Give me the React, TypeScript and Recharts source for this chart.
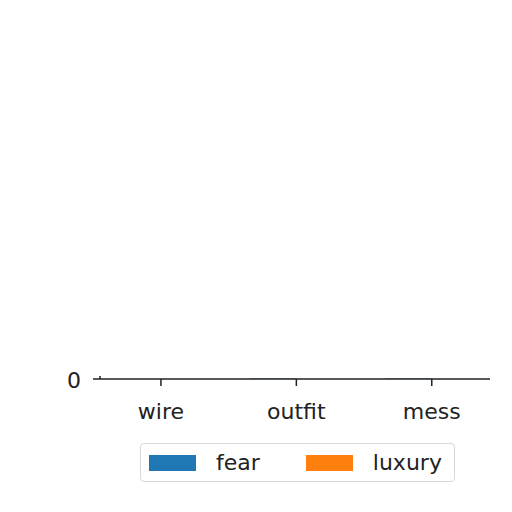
import { BarChart, Bar, XAxis, YAxis } from 'recharts'

const categories = ['wire', 'outfit', 'mess']
const fear = [1, 20, 18]
const luxury = [0.5, 2, 1]

const data = categories.map((name, i) => ({ x: i, name, fear: fear[i], luxury: luxury[i] }))

const font = '"DejaVu Sans", sans-serif'
const axisColor = '#222'

function LegendBox() {
  const item = (color: string, label: string) => (
    <div style={{ display: 'flex', alignItems: 'center' }}>
      <div style={{ width: 47, height: 16, background: color }} />
      <span style={{ marginLeft: 20, fontSize: 22, color: '#222' }}>{label}</span>
    </div>
  )
  return (
    <div
      style={{
        position: 'absolute',
        left: 140,
        top: 443,
        width: 315,
        height: 39,
        border: '1px solid #d8d8d8',
        borderRadius: 4,
        boxSizing: 'border-box',
        display: 'flex',
        alignItems: 'center',
        paddingLeft: 8,
        gap: 46,
        fontFamily: font,
        background: '#fff',
      }}
    >
      {item('#1f77b4', 'fear')}
      {item('#ff7f0e', 'luxury')}
    </div>
  )
}

export default function App() {
  return (
    <div style={{ position: 'absolute', left: 0, top: 0, width: 512, height: 512, background: '#fff' }}>
      <BarChart
        width={512}
        height={512}
        data={data}
        margin={{ top: 376, right: 22, bottom: 0, left: 0 }}
        barGap={0}
      >
        <XAxis
          dataKey="x"
          type="number"
          domain={[-0.45, 2.43]}
          allowDataOverflow
          ticks={[0, 1, 2]}
          tickFormatter={(v: number) => categories[v]}
          height={133}
          tickSize={7}
          tickMargin={17}
          stroke={axisColor}
          strokeWidth={1.5}
          tick={{ fontSize: 22, fill: '#222', fontFamily: font }}
        />
        <YAxis
          yAxisId="left"
          domain={[0, 100]}
          ticks={[0]}
          width={100}
          tickSize={7}
          tickMargin={12}
          stroke={axisColor}
          strokeWidth={1.5}
          tick={{ fontSize: 22, fill: '#222', fontFamily: font, dy: 1 }}
        />
        <YAxis
          yAxisId="right"
          orientation="right"
          width={0}
          tick={false}
          tickLine={false}
          stroke={axisColor}
          strokeWidth={1.5}
        />
        <Bar yAxisId="left" dataKey="fear" fill="#1f77b4" barSize={47} isAnimationActive={false} />
        <Bar yAxisId="left" dataKey="luxury" fill="#ff7f0e" barSize={47} isAnimationActive={false} />
      </BarChart>
      <LegendBox />
    </div>
  )
}
